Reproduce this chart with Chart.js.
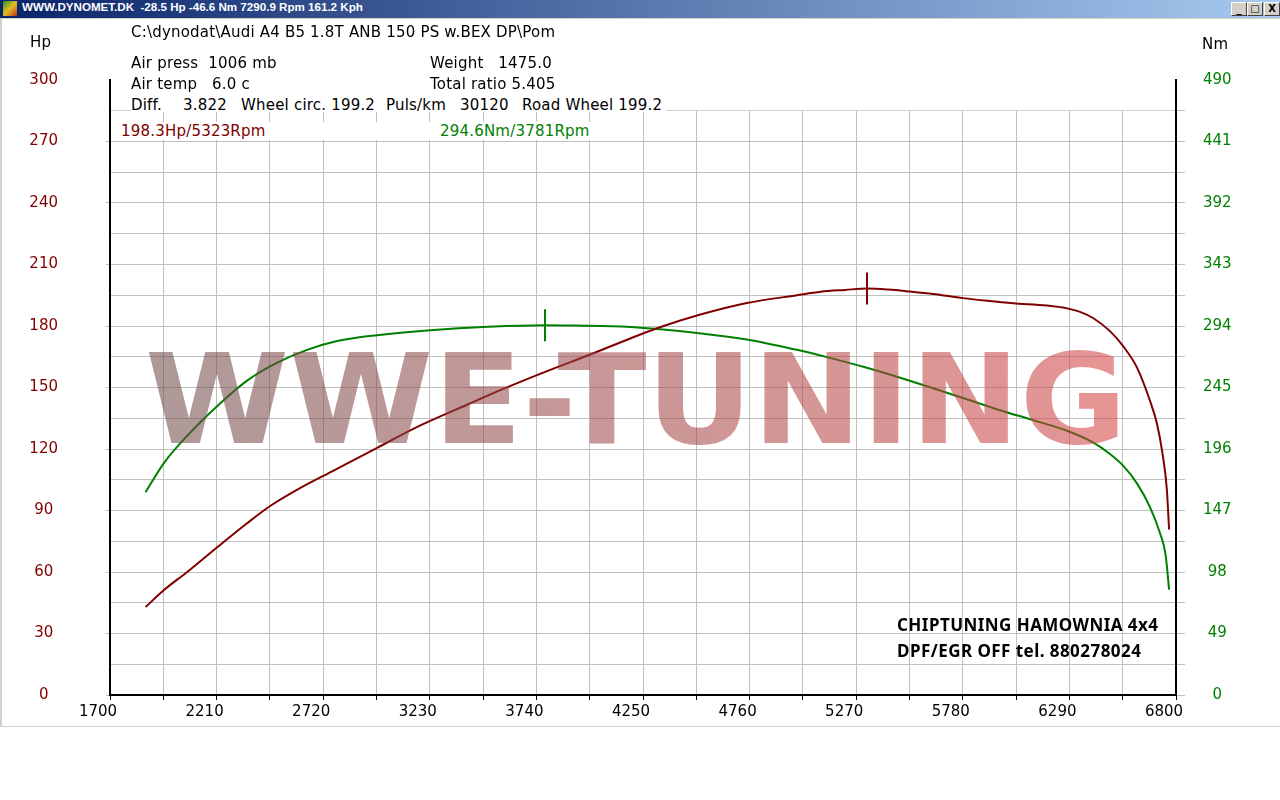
<!DOCTYPE html>
<html>
<head>
<meta charset="utf-8">
<script src="https://cdn.jsdelivr.net/npm/chart.js@4.4.0/dist/chart.umd.min.js"></script>
<style>
body { margin: 0; background: #fff; overflow: hidden; font-family: "DejaVu Sans"; }
#wrap { position: relative; width: 1280px; height: 800px; }
canvas { position: absolute; left: 0; top: 0; }
#bar { position: absolute; left: 0; top: 0; width: 1280px; height: 18px; background: linear-gradient(to right, #0a246a, #a6caf0); }
#bar span { position: absolute; left: 22px; top: 0; line-height: 18px; font: bold 11.6px "Liberation Sans"; color: #fff; white-space: pre; }
#ico { position: absolute; left: 3px; top: 1px; width: 14px; height: 15px; background: linear-gradient(135deg, #2a8a2a, #e0c020 50%, #c03020); }
.btn { position: absolute; top: 2px; width: 14px; height: 12px; background: #d4d0c8; border: 1px solid; border-color: #fff #404040 #404040 #fff; font: bold 10px "DejaVu Sans"; line-height: 12px; text-align: center; color: #000; }
#edgeL { position: absolute; left: 0; top: 18px; width: 2px; height: 708px; background: #d4d0c8; }
#edgeT { position: absolute; left: 0; top: 18px; width: 1280px; height: 1px; background: #d4d0c8; }
#edgeB { position: absolute; left: 0; top: 726px; width: 1280px; height: 1px; background: #d4d0c8; }
.t { position: absolute; white-space: pre; font: 15px "DejaVu Sans"; line-height: 18px; color: #000; letter-spacing: 0.2px; }
.bg { background: #fff; }
.red { color: #800000; }
.grn { color: #008000; }
.tag { position: absolute; white-space: pre; font: bold 17px "Noto Sans"; line-height: 20px; color: #000; letter-spacing: 0.45px; }
</style>
</head>
<body>
<div id="wrap">
<canvas id="dyno" width="1280" height="800"></canvas>
<div id="bar"><div id="ico"></div><span>WWW.DYNOMET.DK  -28.5 Hp -46.6 Nm 7290.9 Rpm 161.2 Kph</span>
<div class="btn" style="left:1231px">_</div><div class="btn" style="left:1247px">&#9633;</div><div class="btn" style="left:1264px">X</div></div>
<div id="edgeT"></div><div id="edgeL"></div><div id="edgeB"></div>

<div class="t" style="left:30px;top:33px">Hp</div>
<div class="t" style="left:1202px;top:35px">Nm</div>
<div class="t" style="left:131px;top:23px">C:\dynodat\Audi A4 B5 1.8T ANB 150 PS w.BEX DP\Pom</div>
<div class="t" style="left:131px;top:54px">Air press  1006 mb</div>
<div class="t" style="left:430px;top:54px">Weight   1475.0</div>
<div class="t" style="left:131px;top:75px">Air temp   6.0 c</div>
<div class="t" style="left:430px;top:75px">Total ratio 5.405</div>
<div class="t bg" style="left:131px;top:96px;width:535px;height:16px;overflow:hidden"><span style="position:absolute;left:0">Diff.</span><span style="position:absolute;left:52px">3.822</span><span style="position:absolute;left:110px">Wheel circ. 199.2</span><span style="position:absolute;left:255px">Puls/km</span><span style="position:absolute;left:329px">30120</span><span style="position:absolute;left:391px">Road Wheel 199.2</span></div>
<div class="t bg" style="left:111px;top:122px;width:482px;height:18px"><span class="red" style="position:absolute;left:10px">198.3Hp/5323Rpm</span><span class="grn" style="position:absolute;left:329px">294.6Nm/3781Rpm</span></div>

<div class="tag" style="left:897px;top:615px">CHIPTUNING HAMOWNIA 4x4</div>
<div class="tag" style="left:897px;top:641px">DPF/EGR OFF tel. 880278024</div>
</div>

<script>
// power curve (Hp)
let powerRpm = [1870, 1957, 2069, 2213, 2356, 2468, 2611, 2770, 2978, 3185, 3408, 3567, 3791, 3998, 4189, 4317, 4508, 4747, 4986, 5100, 5217, 5323, 5423, 5528, 5638, 5781, 5896, 6021, 6183, 6279, 6341, 6403, 6484, 6547, 6614, 6676, 6709, 6735, 6756, 6767]
let powerHp = [42.9, 51.1, 60.0, 72.1, 83.8, 92.3, 101.0, 109.5, 120.6, 131.5, 141.6, 148.7, 158.0, 166.1, 173.9, 178.9, 185.1, 191.2, 195.0, 196.7, 197.6, 198.3, 197.8, 196.8, 195.6, 193.6, 192.3, 191.1, 190.0, 188.6, 186.9, 183.9, 177.5, 170.2, 159.6, 143.4, 132.3, 118.0, 100.5, 80.7]

// torque curve (Nm)
let torqueRpm = [1870, 1957, 2069, 2228, 2356, 2500, 2643, 2787, 2978, 3233, 3511, 3781, 3926, 4189, 4317, 4508, 4747, 4986, 5130, 5321, 5480, 5638, 5799, 5958, 6116, 6279, 6403, 6484, 6547, 6614, 6676, 6724, 6750, 6767]
let torqueNm = [161.5, 184.6, 206.5, 232.5, 250.5, 264.8, 275.0, 282.0, 286.7, 290.7, 293.4, 294.6, 294.3, 293.2, 291.6, 288.5, 283.3, 275.0, 269.2, 260.7, 252.8, 244.4, 235.6, 226.9, 219.0, 210.5, 201.2, 192.0, 182.7, 168.4, 149.5, 128.7, 112.0, 83.9]

// peaks: power, torque
let peakRpm = [5323, 3781]
let peakValue = [198.3, 294.6]

let rpmMin = 1700
let rpmMax = 6800
let hpMax = 300
let nmMax = 490

let powerColor = '#800000'
let torqueColor = '#008000'
let gridColor = '#c0c0c0'
let none = 'rgba(0,0,0,0)'
let tickFont = { family: 'DejaVu Sans', size: 15 }

let topBand = {
	id: 'topBand',
	beforeDatasetsDraw(chart) {
		let a = chart.chartArea
		let y285 = chart.scales.y.getPixelForValue(285)
		let ctx = chart.ctx
		ctx.save()
		ctx.fillStyle = '#fff'
		ctx.fillRect(a.left + 2, a.top, a.right - a.left - 4, y285 - a.top - 0.5)
		ctx.restore()
	},
}

let peaks = {
	id: 'peaks',
	afterDatasetsDraw(chart) {
		let ctx = chart.ctx
		let axes = ['y', 'y1']
		let colors = [powerColor, torqueColor]
		ctx.save()
		ctx.lineWidth = 2
		for (let i = 0; i < peakRpm.length; i++) {
			let x = Math.round(chart.scales.x.getPixelForValue(peakRpm[i]))
			let y = chart.scales[axes[i]].getPixelForValue(peakValue[i])
			ctx.strokeStyle = colors[i]
			ctx.beginPath()
			ctx.moveTo(x, y - 16)
			ctx.lineTo(x, y + 16)
			ctx.stroke()
		}
		ctx.restore()
	},
}

let watermark = {
	id: 'watermark',
	afterDatasetsDraw(chart) {
		let ctx = chart.ctx
		let text = 'WWE-TUNING'
		ctx.save()
		ctx.font = 'bold 125px "DejaVu Sans"'
		let w = ctx.measureText(text).width
		ctx.translate(145, 443)
		ctx.scale(982 / w, 1)
		let g = ctx.createLinearGradient(0, 0, w, -91)
		g.addColorStop(0, 'rgba(105, 70, 70, 0.55)')
		g.addColorStop(1, 'rgba(212, 60, 60, 0.55)')
		ctx.fillStyle = g
		ctx.textBaseline = 'alphabetic'
		ctx.fillText(text, 0, 0)
		ctx.restore()
	},
}

let data = {
	datasets: [
		{
			label: 'Hp',
			data: powerRpm.map((r, i) => ({ x: r, y: powerHp[i] })),
			yAxisID: 'y',
			borderColor: powerColor,
			borderWidth: 2,
			pointRadius: 0,
			cubicInterpolationMode: 'monotone',
		},
		{
			label: 'Nm',
			data: torqueRpm.map((r, i) => ({ x: r, y: torqueNm[i] })),
			yAxisID: 'y1',
			borderColor: torqueColor,
			borderWidth: 2,
			pointRadius: 0,
			cubicInterpolationMode: 'monotone',
		},
	],
}

let options = {
	responsive: false,
	animation: false,
	devicePixelRatio: 1,
	layout: { padding: { left: 0, right: 0, top: 80, bottom: 75 } },
	plugins: {
		legend: { display: false },
		tooltip: { enabled: false },
	},
	scales: {
		x: {
			type: 'linear',
			min: rpmMin,
			max: rpmMax,
			ticks: {
				stepSize: 255,
				autoSkip: false,
				maxRotation: 0,
				color: '#000',
				font: tickFont,
				padding: 3,
				labelOffset: -12,
				callback: v => ((v - rpmMin) % 510 === 0 ? v : ''),
			},
			grid: { color: gridColor, tickColor: '#000', tickLength: 5, lineWidth: 1 },
			border: { color: '#000', width: 2 },
			afterFit: s => { s.height = 30 },
		},
		y: {
			position: 'left',
			min: 0,
			max: hpMax,
			ticks: {
				stepSize: 15,
				autoSkip: false,
				color: powerColor,
				font: tickFont,
				crossAlign: 'center',
				padding: 48,
				callback: v => (v % 30 === 0 ? v : ''),
			},
			grid: {
				color: c => (c.tick && c.tick.value === hpMax ? none : gridColor),
				tickColor: c => (c.tick && c.tick.value % 30 === 0 && c.tick.value !== hpMax ? gridColor : none),
				tickLength: 4,
				lineWidth: 1,
			},
			border: { color: '#000', width: 2 },
			afterFit: s => { s.width = 110 },
		},
		y1: {
			position: 'right',
			min: 0,
			max: nmMax,
			ticks: {
				stepSize: 24.5,
				autoSkip: false,
				color: torqueColor,
				font: tickFont,
				crossAlign: 'center',
				padding: 18,
				callback: v => (v % 49 === 0 ? v : ''),
			},
			grid: {
				drawOnChartArea: false,
				tickColor: c => (c.tick && c.tick.value === nmMax ? none : gridColor),
				tickLength: 9,
				lineWidth: 1,
			},
			border: { color: '#000', width: 2 },
			afterFit: s => { s.width = 104 },
		},
	},
}

let chart = new Chart(document.getElementById('dyno'), {
	type: 'line',
	data: data,
	options: options,
	plugins: [topBand, peaks, watermark],
})
</script>
</body>
</html>
